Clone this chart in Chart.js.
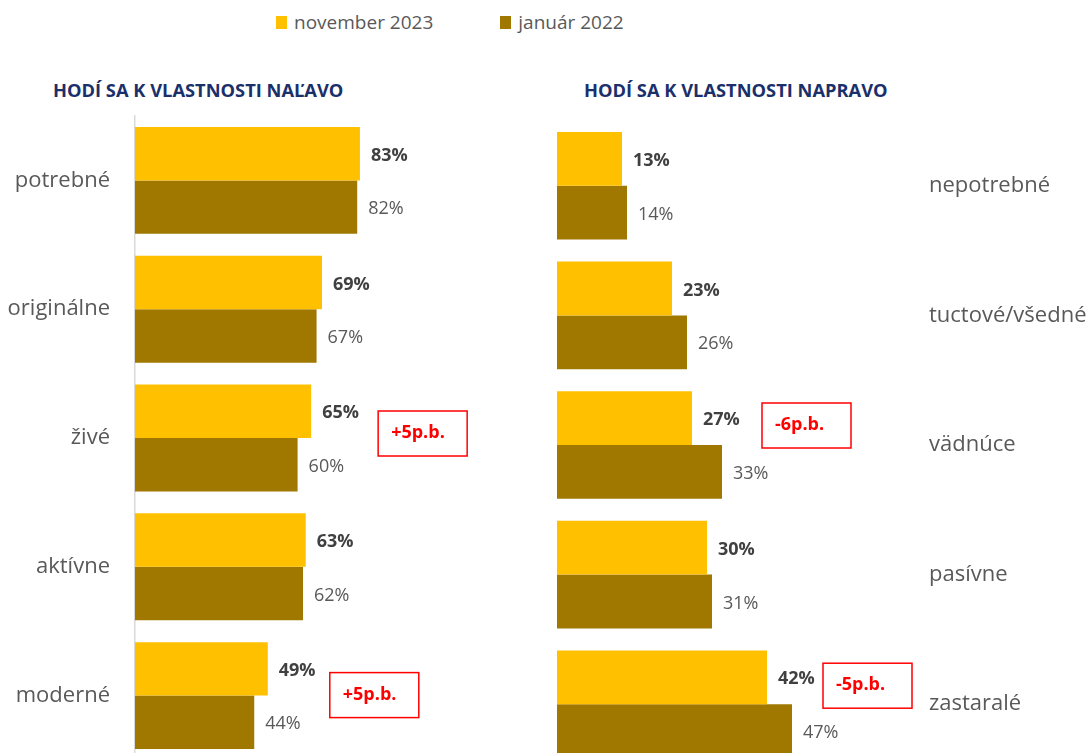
<!DOCTYPE html>
<html>
<head>
<meta charset="utf-8">
<script src="https://cdn.jsdelivr.net/npm/chart.js@4"></script>
<style>
  html, body { margin: 0; padding: 0; background: #fff; }
  body { width: 1092px; height: 753px; overflow: hidden; position: relative; font-family: "Open Sans", sans-serif; }
  .legend { position: absolute; top: 9px; left: 276px; display: flex; align-items: center; font-size: 19px; color: #595959; }
  .legend span.box { display: inline-block; width: 11px; height: 13px; margin-right: 7px; }
  .legend .item { display: flex; align-items: center; margin-right: 67px; }
  .title { position: absolute; top: 77px; font-size: 18.3px; font-weight: bold; color: #1b2f6b; white-space: nowrap; }
  canvas { position: absolute; top: 0; }
</style>
</head>
<body>
<div class="legend">
  <div class="item"><span class="box" style="background:#FFC000"></span>november 2023</div>
  <div class="item"><span class="box" style="background:#A07800"></span>január 2022</div>
</div>
<div class="title" style="left:53px">HODÍ SA K VLASTNOSTI NAĽAVO</div>
<div class="title" style="left:584px">HODÍ SA K VLASTNOSTI NAPRAVO</div>
<canvas id="leftChart" style="left:0"></canvas>
<canvas id="rightChart" style="left:540px"></canvas>
<script>
// data
const leftLabels = ['potrebné', 'originálne', 'živé', 'aktívne', 'moderné'];
const leftNov2023 = [83, 69, 65, 63, 49];
const leftJan2022 = [82, 67, 60, 62, 44];
const leftDiffs = [null, null, '+5p.b.', null, '+5p.b.'];

const rightLabels = ['nepotrebné', 'tuctové/všedné', 'vädnúce', 'pasívne', 'zastaralé'];
const rightNov2023 = [13, 23, 27, 30, 42];
const rightJan2022 = [14, 26, 33, 31, 47];
const rightDiffs = [null, null, '-6p.b.', null, '-5p.b.'];

const FONT = '"Open Sans", sans-serif';
Chart.defaults.font.family = FONT;
Chart.defaults.animation = false;

// draws the % labels and the red difference boxes
const labelsPlugin = {
    id: 'labelsPlugin',
    afterDatasetsDraw(chart, args, opts) {
        const ctx = chart.ctx;
        ctx.save();
        ctx.textBaseline = 'middle';
        ctx.textAlign = 'left';
        chart.data.datasets.forEach((ds, di) => {
            const meta = chart.getDatasetMeta(di);
            meta.data.forEach((bar, i) => {
                ctx.font = (di === 0 ? 'bold ' : '') + '18px ' + FONT;
                ctx.fillStyle = di === 0 ? '#404040' : '#595959';
                ctx.fillText(ds.data[i] + '%', bar.x + 11, bar.y + 2);
            });
        });
        const yScale = chart.scales.y;
        const first = chart.getDatasetMeta(0);
        opts.diffs.forEach((txt, i) => {
            if (!txt) return;
            const bar = first.data[i];
            const x = bar.x + opts.boxGap[i];
            const yc = yScale.getPixelForValue(i) + opts.boxShift[i];
            ctx.strokeStyle = '#ff0000';
            ctx.lineWidth = 1.5;
            ctx.strokeRect(x, yc - 22, 89, 45);
            ctx.font = 'bold 18px ' + FONT;
            ctx.fillStyle = '#ff0000';
            ctx.fillText(txt, x + 13, yc);
        });
        ctx.restore();
    }
};

function makeChart(id, w, labels, nov, jan, diffs, side) {
    const canvas = document.getElementById(id);
    const h = 780;
    canvas.width = w;
    canvas.height = h;
    canvas.style.width = w + 'px';
    canvas.style.height = h + 'px';
    const left = side === 'left';
    return new Chart(canvas.getContext('2d'), {
        type: 'bar',
        data: {
            labels: labels,
            datasets: [{
                label: 'november 2023',
                data: nov,
                backgroundColor: '#FFC000'
            }, {
                label: 'január 2022',
                data: jan,
                backgroundColor: '#A07800'
            }]
        },
        options: {
            indexAxis: 'y',
            responsive: false,
            categoryPercentage: 0.83,
            barPercentage: 1,
            layout: {
                padding: left ? { top: 116, bottom: 20, left: 0, right: 134 }
                               : { top: 121, bottom: 11, left: 17, right: 0 }
            },
            scales: {
                x: { display: false, min: 0, max: left ? 100 : 70 },
                y: {
                    position: left ? 'left' : 'right',
                    grid: { display: false },
                    border: { display: left, color: '#d9d9d9', width: 1.5 },
                    ticks: {
                        color: '#595959',
                        font: { size: 22 },
                        padding: left ? 17 : 14,
                        crossAlign: 'near'
                    },
                    afterFit(scale) {
                        scale.width = left ? 135 : 185;
                        scale.paddingTop = 0;
                        scale.paddingBottom = 0;
                    }
                }
            },
            plugins: {
                legend: { display: false },
                tooltip: { enabled: false },
                labelsPlugin: {
                    diffs: diffs,
                    // box offsets per category (from the yellow bar end / band centre)
                    boxGap: left ? [0, 0, 67, 0, 62] : [0, 0, 70, 0, 56],
                    boxShift: left ? [0, 0, -5, 0, -1] : [0, 0, -20, 0, -19]
                }
            }
        },
        plugins: [labelsPlugin]
    });
}

makeChart('leftChart', 540, leftLabels, leftNov2023, leftJan2022, leftDiffs, 'left');
makeChart('rightChart', 552, rightLabels, rightNov2023, rightJan2022, rightDiffs, 'right');
</script>
</body>
</html>
